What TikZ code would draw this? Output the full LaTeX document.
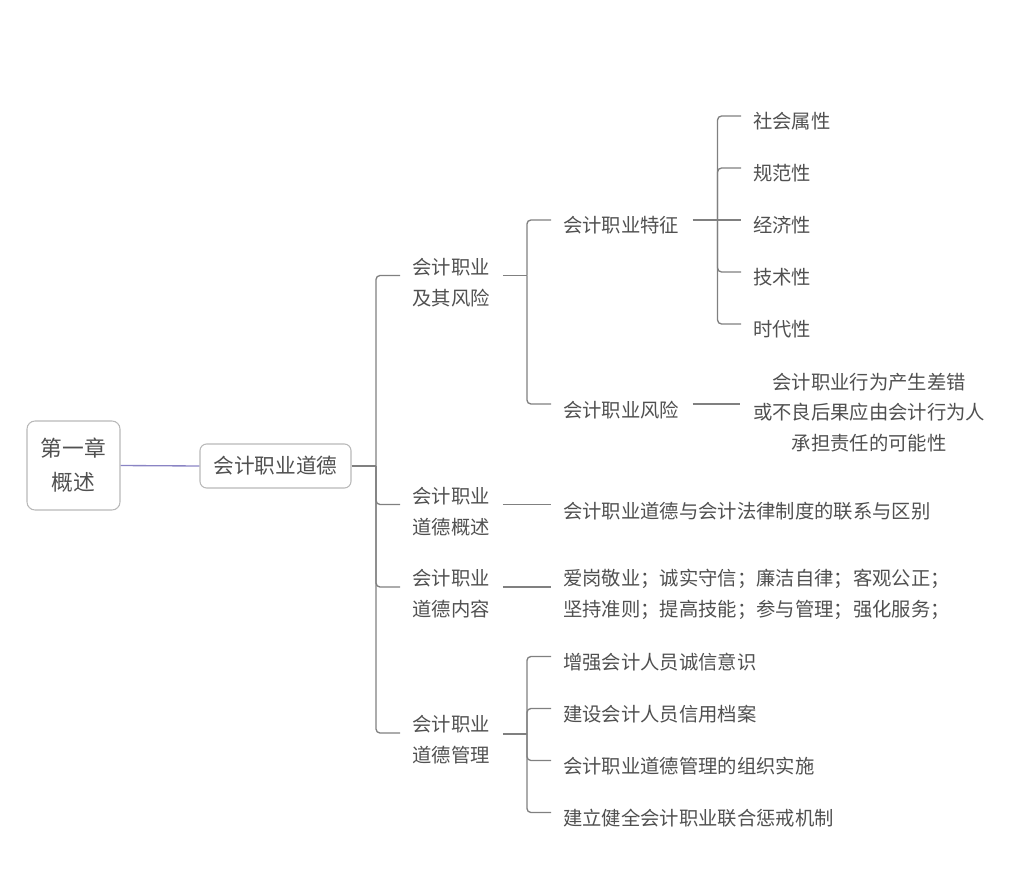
\documentclass[tikz,border=0pt]{standalone}
\usepackage{fontspec}
\setmainfont{Noto Sans CJK SC}
\usetikzlibrary{calc}
\definecolor{txt}{HTML}{505050}
\definecolor{ln}{HTML}{808080}
\definecolor{bd}{HTML}{B8B8B8}
\definecolor{pu}{HTML}{8A84C4}
\begin{document}
\begin{tikzpicture}[x=0.75pt,y=-0.75pt,
  every node/.style={text=txt, inner sep=0pt},
  conn/.style={draw=ln, line width=1pt, rounded corners=3pt},
  t/.style={font=\fontsize{14.5}{23.25}\selectfont, anchor=west},
  two/.style={font=\fontsize{14.5}{23.25}\selectfont, align=left},
  box/.style={draw=bd, line width=0.8pt}
]
\useasboundingbox (0,0) rectangle (1020,888);

% root and first level
\node[box, rounded corners=6pt, minimum width=69.75pt, minimum height=66.75pt, align=center, font=\fontsize{16.3}{25.5}\selectfont] (root) at (73.5,465.5) {第一章\\概述};
\node[box, rounded corners=5pt, minimum width=113.25pt, minimum height=33pt, font=\fontsize{15.5}{18}\selectfont] (b2) at (275.5,466) {会计职业道德};
\draw[pu, line width=1pt] (root.east) -- (b2.west);

% second level
\node[two] (L1) at (451,282.5) {会计职业\\及其风险};
\node[two] (L2) at (451,511.5) {会计职业\\道德概述};
\node[two] (L3) at (451,594) {会计职业\\道德内容};
\node[two] (L4) at (451,740) {会计职业\\道德管理};
\coordinate (h0) at (376,466);
\draw[conn] (b2.east) -- (h0);
\foreach \n in {L1,L2,L3,L4} \draw[conn] (h0) |- ($(\n.west)+(-12,-7)$);

% branch 1
\node[t] (F) at (563,225) {会计职业特征};
\node[t] (R) at (563,410) {会计职业风险};
\coordinate (h1) at ($(L1.east)+(37,-7)$);
\draw[conn] ($(L1.east)+(13,-7)$) -- (h1);
\draw[conn] (h1) |- ($(F.west)+(-12,-5)$);
\draw[conn] (h1) |- ($(R.west)+(-12,-6)$);

\node[t] (a1) at (753,121) {社会属性};
\node[t] (a2) at (753,173) {规范性};
\node[t] (a3) at (753,225) {经济性};
\node[t] (a4) at (753,277) {技术性};
\node[t] (a5) at (753,329) {时代性};
\coordinate (h2) at ($(F.east)+(38,-5)$);
\draw[conn] ($(F.east)+(13,-5)$) -- (h2);
\foreach \n in {a1,a2,a4,a5} \draw[conn] (h2) |- ($(\n.west)+(-12,-5)$);
\draw[conn] (h2) -- ($(h2 -| a3.west)+(-12,0)$);

\node[align=center, font=\fontsize{14.5}{23}\selectfont] (RT) at (869,412.5) {会计职业行为产生差错\\或不良后果应由会计行为人\\承担责任的可能性};
\coordinate (rl) at ($(R.east)+(13,-6)$);
\draw[conn] (rl) -- ($(rl -| RT.west)+(-13,0)$);

% branch 2
\node[t] (OT) at (563,511) {会计职业道德与会计法律制度的联系与区别};
\coordinate (o1) at ($(L2.east)+(13,-7)$);
\draw[conn] (o1) -- ($(o1 -| OT.west)+(-12,0)$);

% branch 3
\node[t, align=left] (CT) at (563,594.5) {爱岗敬业；诚实守信；廉洁自律；客观公正；\\坚持准则；提高技能；参与管理；强化服务；};
\coordinate (c1) at ($(L3.east)+(13,-7)$);
\draw[conn] (c1) -- ($(c1 -| CT.west)+(-12,0)$);

% branch 4
\node[t] (m1) at (563,662) {增强会计人员诚信意识};
\node[t] (m2) at (563,714) {建设会计人员信用档案};
\node[t] (m3) at (563,766) {会计职业道德管理的组织实施};
\node[t] (m4) at (563,818) {建立健全会计职业联合惩戒机制};
\coordinate (h3) at ($(L4.east)+(37,-6)$);
\draw[conn] ($(L4.east)+(13,-6)$) -- (h3);
\foreach \n in {m1,m2,m3,m4} \draw[conn] (h3) |- ($(\n.west)+(-12,-5.5)$);
\end{tikzpicture}
\end{document}
